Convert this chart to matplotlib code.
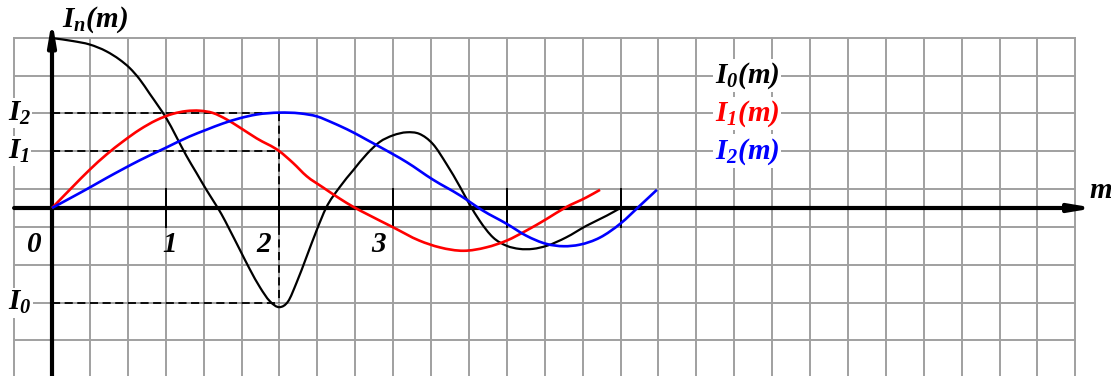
import matplotlib
matplotlib.use("Agg")
import matplotlib.pyplot as plt
from matplotlib.path import Path
from matplotlib.patches import PathPatch
import numpy as np

# ---- data: x in units of m, y in grid cells ----
i0_x = [0, 0.185, 0.331, 0.478, 0.595, 0.683, 0.771, 0.859, 0.947, 1.0, 1.094, 1.18, 1.27,
        1.36, 1.446, 1.49, 1.56, 1.65, 1.74, 1.83, 1.915, 2.0, 2.076, 2.15, 2.24, 2.33, 2.41,
        2.53, 2.65, 2.77, 2.88, 3.0, 3.12, 3.23, 3.35, 3.47, 3.59, 3.67, 3.76, 3.88, 4.0,
        4.11, 4.23, 4.35, 4.52, 4.70, 4.88, 5.0]
i0_y = [4.49, 4.41, 4.32, 4.14, 3.92, 3.70, 3.40, 3.02, 2.64, 2.40, 1.88, 1.39, 0.93,
        0.47, 0.06, -0.16, -0.56, -1.09, -1.62, -2.10, -2.46, -2.62, -2.47, -1.98, -1.28, -0.57, 0.0,
        0.55, 1.0, 1.43, 1.74, 1.92, 2.0, 1.96, 1.69, 1.16, 0.55, 0.11, -0.33, -0.78, -1.0,
        -1.08, -1.08, -1.0, -0.78, -0.47, -0.2, 0.0]

i1_x = [0, 0.185, 0.331, 0.478, 0.625, 0.771, 0.918, 1.065, 1.18, 1.30, 1.416, 1.53, 1.65,
        1.80, 2.0, 2.12, 2.24, 2.38, 2.53, 2.65, 2.77, 3.0, 3.23, 3.41, 3.62, 3.82, 4.0,
        4.17, 4.35, 4.52, 4.70, 4.82]
i1_y = [0, 0.57, 1.01, 1.41, 1.76, 2.07, 2.32, 2.49, 2.56, 2.57, 2.51, 2.35, 2.13,
        1.84, 1.5, 1.19, 0.84, 0.55, 0.25, 0.03, -0.16, -0.51, -0.86, -1.04, -1.13, -1.04, -0.86,
        -0.60, -0.29, 0.02, 0.28, 0.48]

i2_x = [0, 0.185, 0.331, 0.478, 0.625, 0.771, 1.0, 1.21, 1.36, 1.50, 1.65, 1.80, 2.0,
        2.18, 2.33, 2.47, 2.53, 2.66, 2.77, 2.88, 3.12, 3.35, 3.59, 3.79, 4.0, 4.17, 4.35,
        4.50, 4.64, 4.82, 5.0, 5.17, 5.32]
i2_y = [0, 0.30, 0.54, 0.79, 1.03, 1.26, 1.59, 1.89, 2.07, 2.23, 2.37, 2.47, 2.52,
        2.50, 2.42, 2.25, 2.17, 1.98, 1.80, 1.62, 1.21, 0.75, 0.33, -0.07, -0.42, -0.73, -0.95,
        -1.01, -0.97, -0.78, -0.41, 0.06, 0.48]

# reference levels and their labels
levels = [2.5, 1.5, -2.5]
level_labels = [r"$I_2$", r"$I_1$", r"$I_0$"]
level_x = 2.0

x_ticks = [1, 2, 3, 4, 5]
x_tick_labels = ["0", "1", "2", "3"]
x_tick_label_pos = [-0.16, 1.03, 1.87, 2.88]

series_names = [r"$I_0(m)$", r"$I_1(m)$", r"$I_2(m)$"]
series_colors = ["black", "#ff0000", "#0000ff"]


def smooth_path(xs, ys):
    """Cubic Bezier path through every given point, tangents from neighbouring slopes."""
    x = np.asarray(xs, float)
    y = np.asarray(ys, float)
    h = np.diff(x)
    d = np.diff(y) / h
    m = np.empty_like(y)
    m[0], m[-1] = d[0], d[-1]
    m[1:-1] = (d[1:] * h[:-1] + d[:-1] * h[1:]) / (h[:-1] + h[1:])
    verts = [(x[0], y[0])]
    codes = [Path.MOVETO]
    for i in range(len(x) - 1):
        t = h[i] / 3.0
        verts += [(x[i] + t, y[i] + m[i] * t),
                  (x[i + 1] - t, y[i + 1] - m[i + 1] * t),
                  (x[i + 1], y[i + 1])]
        codes += [Path.CURVE4] * 3
    return Path(verts, codes)


# ---- style ----
plt.rcParams["mathtext.fontset"] = "custom"
for key in ("rm", "it", "bf", "sf"):
    plt.rcParams["mathtext." + key] = "Liberation Serif:italic:bold"
plt.rcParams["font.family"] = ["Liberation Serif", "DejaVu Serif"]

fig = plt.figure(figsize=(11.11, 3.76), dpi=100)
ax = fig.add_axes([0, 0, 1, 1])
px_x, px_y = 113.7, 37.85
ax.set_xlim(-52 / px_x, (1111 - 52) / px_x)
ax.set_ylim(-(376 - 208) / px_y, 208 / px_y)
ax.axis("off")

# grid of cells
grid_c = "#a0a0a0"
gx = np.arange(-1, 28) / 3.0
gy = np.arange(-4.5, 5.0, 1.0)
for xv in gx:
    ax.plot([xv, xv], [-5, 4.5], color=grid_c, lw=1.4, zorder=1)
for yv in gy:
    ax.plot([gx[0], gx[-1]], [yv, yv], color=grid_c, lw=1.4, zorder=1)

# axes with arrows
arrow = dict(arrowstyle="-|>,head_length=1.3,head_width=0.22", lw=3.0,
             color="black", shrinkA=0, shrinkB=0)
ax.annotate("", xy=(9.17, 0), xytext=(-1 / 3, 0), arrowprops=arrow, zorder=5)
ax.annotate("", xy=(0, 4.97), xytext=(0, -5), arrowprops=arrow, zorder=5)

# ticks on m axis
for t in x_ticks:
    ax.plot([t, t], [-0.5, 0.5], color="black", lw=1.4, zorder=4)

# dashed helper lines
dash = dict(color="black", lw=1.3, ls=(0, (4.5, 2.5)), zorder=3)
for lv in levels:
    ax.plot([0, level_x], [lv, lv], **dash)
ax.plot([level_x, level_x], [max(levels), min(levels)], **dash)

# curves
for xs, ys, col, lw in ((i0_x, i0_y, series_colors[0], 1.6),
                        (i1_x, i1_y, series_colors[1], 1.9),
                        (i2_x, i2_y, series_colors[2], 1.9)):
    ax.add_patch(PathPatch(smooth_path(xs, ys), fill=False, edgecolor=col, lw=lw,
                           capstyle="butt", joinstyle="round", zorder=6))

fs = 21
box = dict(facecolor="white", edgecolor="none", pad=1.0)
for lv, lab in zip(levels, level_labels):
    ax.text(-0.39, lv, lab, fontsize=fs, ha="left", va="center", bbox=box, zorder=7)
for pos, lab in zip(x_tick_label_pos, x_tick_labels):
    ax.text(pos, -0.98, r"$%s$" % lab, fontsize=fs, ha="center", va="center", zorder=7)

ax.text(0.09, 4.97, r"$I_n(m)$", fontsize=fs, ha="left", va="center", zorder=7)
ax.text(9.22, 0.45, r"$m$", fontsize=fs, ha="center", va="center", zorder=7)

for k, (name, col) in enumerate(zip(series_names, series_colors)):
    ax.text(5.83, 3.5 - k, name, fontsize=fs, color=col, ha="left", va="center",
            bbox=box, zorder=7)

fig.savefig("out.png", dpi=100)
